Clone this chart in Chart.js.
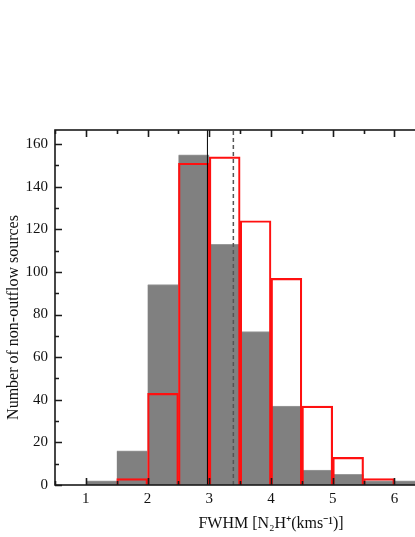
<!DOCTYPE html>
<html><head><meta charset="utf-8">
<script src="https://cdn.jsdelivr.net/npm/chart.js@4/dist/chart.umd.min.js"></script>
<style>html,body{margin:0;padding:0;overflow:hidden;background:#fff;width:415px;height:537px}canvas{display:block}</style>
</head><body>
<canvas id="c" width="492" height="537"></canvas>
<script>
// ---- data ----
const binCenters = [1.25, 1.75, 2.25, 2.75, 3.25, 3.75, 4.25, 4.75, 5.25, 5.75, 6.25];
const grayCounts = [2, 16, 94, 155, 113, 72, 37, 7, 5, 2, 2];
const redCounts  = [null, 3, 43, 151, 154, 124, 97, 37, 13, 3, null];
const solidLineX = 2.97;
const dashedLineX = 3.39;
const xRange = [0.5, 7.5];
const yRange = [0, 166.6];
const xStep = 0.5;
const yStep = 10;
const xTitle = 'FWHM [N\u2082H\u207A(kms\u207B\u00B9)]';
const yTitle = 'Number of non-outflow sources';

const serif = "'Liberation Serif', 'Times New Roman', serif";

const frameTicks = {
  id: 'frameTicks',
  afterDatasetsDraw(chart) {
    const {ctx, chartArea: a, scales: {x, y}} = chart;
    ctx.save();
    ctx.strokeStyle = '#1a1a1a';
    ctx.lineWidth = 1.6;
    ctx.beginPath();
    x.ticks.forEach(t => {
      const px = Math.round(x.getPixelForValue(t.value)) + 0.5;
      const L = Number.isInteger(t.value) ? 7 : 4;
      ctx.moveTo(px, a.bottom); ctx.lineTo(px, a.bottom - L);
      ctx.moveTo(px, a.top); ctx.lineTo(px, a.top + L);
    });
    y.ticks.forEach(t => {
      if (Math.abs(t.value % yStep) > 1e-6) return;
      const py = Math.round(y.getPixelForValue(t.value)) + 0.5;
      const L = (t.value % 20 === 0) ? 7 : 4;
      ctx.moveTo(a.left, py); ctx.lineTo(a.left + L, py);
      ctx.moveTo(a.right, py); ctx.lineTo(a.right - L, py);
    });
    ctx.stroke();
    ctx.strokeRect(a.left, a.top, a.right - a.left, a.bottom - a.top);
    ctx.restore();
  }
};

new Chart(document.getElementById('c'), {
  type: 'bar',
  data: {
    datasets: [
      {
        type: 'line', label: 'solid',
        data: [{x: solidLineX, y: yRange[0]}, {x: solidLineX, y: yRange[1]}],
        borderColor: '#000', borderWidth: 1, pointRadius: 0, order: 0
      },
      {
        type: 'line', label: 'dashed',
        data: [{x: dashedLineX, y: yRange[0]}, {x: dashedLineX, y: yRange[1]}],
        borderColor: '#555', borderWidth: 1.5, borderDash: [4, 3], pointRadius: 0, order: 0
      },
      {
        label: 'red',
        data: binCenters.map((x, i) => ({x, y: redCounts[i]})),
        backgroundColor: 'rgba(0,0,0,0)', borderColor: '#ff1010', borderWidth: 1.5,
        grouped: false, barPercentage: 1, categoryPercentage: 1, order: 1
      },
      {
        label: 'gray',
        data: binCenters.map((x, i) => ({x, y: grayCounts[i]})),
        backgroundColor: '#808080', borderColor: '#9a9a9a', borderWidth: {top: 1, left: 0, right: 0, bottom: 0},
        grouped: false, barPercentage: 1, categoryPercentage: 1, order: 2
      }
    ]
  },
  options: {
    responsive: false,
    animation: false,
    layout: {padding: {top: 130, left: 0, right: 0, bottom: 0}},
    plugins: {legend: {display: false}, tooltip: {enabled: false}},
    scales: {
      x: {
        type: 'linear', offset: false,
        min: xRange[0], max: xRange[1],
        grid: {display: false, drawTicks: false},
        border: {display: false},
        ticks: {
          stepSize: xStep, autoSkip: false, maxRotation: 0, padding: 5,
          color: '#111', font: {family: serif, size: 15},
          callback: v => Number.isInteger(v) ? String(v) : ''
        },
        title: {display: true, text: xTitle, color: '#111', font: {family: serif, size: 16}, padding: {top: 0, bottom: 4}},
        afterFit(s) { s.height = 52; }
      },
      y: {
        min: yRange[0], max: yRange[1],
        grid: {display: false, drawTicks: false},
        border: {display: false},
        ticks: {
          stepSize: yStep, autoSkip: false, padding: 7, includeBounds: false,
          color: '#111', font: {family: serif, size: 15},
          callback: v => (v % 20 === 0) ? String(v) : ''
        },
        title: {display: true, text: yTitle + '\u00A0\u00A0\u00A0\u00A0\u00A0', color: '#111', font: {family: serif, size: 16}, padding: {top: 4, bottom: 0}},
        afterFit(s) { s.width = 55; }
      }
    }
  },
  plugins: [frameTicks]
});
</script>
</body></html>
